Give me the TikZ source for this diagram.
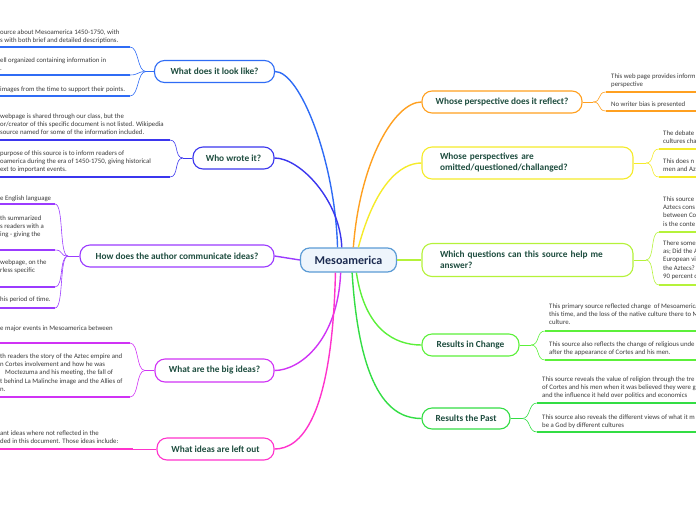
\documentclass[tikz,border=0pt]{standalone}
\usepackage{fontspec}
\setmainfont{Carlito}
\definecolor{cblue}{HTML}{2F6CF5}
\definecolor{cindigo}{HTML}{3B36EE}
\definecolor{cpurple}{HTML}{9B3BFF}
\definecolor{cmag}{HTML}{D033F5}
\definecolor{cpink}{HTML}{FF33CC}
\definecolor{corange}{HTML}{FFA020}
\definecolor{cyellow}{HTML}{F5EB2A}
\definecolor{clime}{HTML}{B5F23A}
\definecolor{cgreenA}{HTML}{5CF03A}
\definecolor{cgreenB}{HTML}{33DD44}
\definecolor{ctext}{HTML}{1E4D3F}
\definecolor{cnavy}{HTML}{1C2B50}
\definecolor{cfill}{HTML}{EEF5FC}
\definecolor{cedge}{HTML}{5B9BD5}
\definecolor{cgray}{HTML}{3A3A3A}
\newcommand{\leafrows}[1]{\begin{tabular}[t]{@{}l@{}}#1\end{tabular}}
\tikzset{
  mainbox/.style={draw=cedge, fill=cfill, line width=1.2pt, rounded corners=9pt,
    minimum width=96pt, minimum height=24pt, inner sep=0pt,
    font=\fontsize{12}{14}\selectfont\bfseries, text=cnavy},
  branch/.style={draw=#1, fill=white, line width=1.1pt, rounded corners=10pt,
    inner sep=0pt, font=\fontsize{9.3}{11}\selectfont\bfseries, text=ctext},
  conn/.style={draw=#1, line width=1.4pt},
  twig/.style={draw=#1, line width=0.6pt},
  uline/.style={draw=#1, line width=1.8pt},
  leaf/.style={anchor=base west, inner sep=0pt, font=\fontsize{6.8}{8.4}\selectfont, text=cgray}
}
\begin{document}
\begin{tikzpicture}[x=1pt,y=-1pt]
\useasboundingbox (0,0) rectangle (696,520);
\clip (0,0) rectangle (696,520);

% centre
\node[mainbox] (c) at (348.5,260) {Mesoamerica};

% branches left
\node[branch=cblue, minimum width=120pt, minimum height=22pt] (look) at (214.5,71.5) {What does it look like?};
\node[branch=cindigo, minimum width=81pt, minimum height=22pt] (who) at (233.5,158) {Who wrote it?};
\node[branch=cpurple, minimum width=194pt, minimum height=22pt] (how) at (177,256) {How does the author communicate ideas?};
\node[branch=cmag, minimum width=119pt, minimum height=23pt] (big) at (214.5,370.5) {What are the big ideas?};
\node[branch=cpink, minimum width=117pt, minimum height=22pt] (out) at (215.5,449) {What ideas are left out};

% branches right
\node[branch=corange, minimum width=160pt, minimum height=22pt] (persp) at (502,102) {Whose perspective does it reflect?};
\node[branch=cyellow, minimum width=211pt, minimum height=32pt, text width=175pt, align=left] (omit) at (527.5,163) {Whose perspectives are\\omitted/questioned/challanged?};
\node[branch=clime, minimum width=211pt, minimum height=33pt, text width=175pt, align=left] (quest) at (527.5,260) {Which questions can this source help me\\answer?};
\node[branch=cgreenA, minimum width=97pt, minimum height=22pt] (change) at (470.5,345) {Results in Change};
\node[branch=cgreenB, minimum width=88pt, minimum height=21pt] (past) at (466,418.5) {Results the Past};

% main connectors
\draw[conn=cblue] (c.131) .. controls (335,160) and (300,71.5) .. (look.east);
\draw[conn=cindigo] (c.118) .. controls (340,200) and (300,158) .. (who.east);
\draw[conn=cpurple] (c.west) -- (how.east);
\draw[conn=cmag] (c.238) .. controls (338,340) and (300,370.5) .. (big.east);
\draw[conn=cpink] (c.224) .. controls (332,420) and (300,449) .. (out.east);
\draw[conn=corange] (c.69) .. controls (360,160) and (395,102) .. (persp.west);
\draw[conn=cyellow] (c.52) .. controls (375,185) and (400,163) .. (omit.west);
\draw[conn=clime] (c.east) -- (quest.west);
\draw[conn=cgreenA] (c.302) .. controls (365,330) and (395,345) .. (change.west);
\draw[conn=cgreenB] (c.286) .. controls (360,400) and (395,418.5) .. (past.west);

% ---------- What does it look like? leaves
\coordinate (lkh) at (146,71.5);
\coordinate (lk1) at (130,47);
\coordinate (lk2) at (130,75);
\coordinate (lk3) at (130,96);
\draw[uline=cblue] (-2,47) -- (lk1);
\draw[uline=cblue] (-2,75) -- (lk2);
\draw[uline=cblue] (-2,96) -- (lk3);
\draw[twig=cblue] (look.west) -- (lkh);
\foreach \e in {lk1,lk2,lk3} \draw[twig=cblue] (lkh) .. controls +(-9,0) and +(9,0) .. (\e);
\node[leaf] (lkt1) at (0,34.5) {\leafrows{ource about Mesoamerica 1450-1750, with\\s with both brief and detailed descriptions.}};
\node[leaf] (lkt2) at (0,62) {\leafrows{ell organized containing information in\\.}};
\node[leaf] (lkt3) at (0,91) {\leafrows{images from the time to support their points.}};

% ---------- Who wrote it? leaves
\coordinate (wh) at (183,158);
\coordinate (w1) at (170,140);
\coordinate (w2) at (170,177);
\draw[uline=cindigo] (-2,140) -- (w1);
\draw[uline=cindigo] (-2,177) -- (w2);
\draw[twig=cindigo] (who.west) -- (wh);
\foreach \e in {w1,w2} \draw[twig=cindigo] (wh) .. controls +(-9,0) and +(9,0) .. (\e);
\node[leaf] (wt1) at (0,118) {\leafrows{webpage is shared through our class, but the\\or/creator of this specific document is not listed. Wikipedia\\source named for some of the information included.}};
\node[leaf] (wt2) at (0,155) {\leafrows{purpose of this source is to inform readers of\\oamerica during the era of 1450-1750, giving historical\\ext to important events.}};

% ---------- How does the author communicate ideas? leaves
\coordinate (hh) at (68,256);
\coordinate (h1) at (55,204);
\coordinate (h2) at (55,250);
\coordinate (h3) at (55,287);
\coordinate (h4) at (55,308);
\draw[uline=cpurple] (-2,204) -- (h1);
\draw[uline=cpurple] (-2,250) -- (h2);
\draw[uline=cpurple] (-2,287) -- (h3);
\draw[uline=cpurple] (-2,308) -- (h4);
\draw[twig=cpurple] (how.west) -- (hh);
\foreach \e in {h1,h2,h3,h4} \draw[twig=cpurple] (hh) .. controls +(-9,0) and +(9,0) .. (\e);
\node[leaf] (ht1) at (0,200) {\leafrows{e English language}};
\node[leaf] (ht2) at (0,220) {\leafrows{th summarized\\s readers with a\\ing - giving the}};
\node[leaf] (ht3) at (0,264.5) {\leafrows{webpage, on the\\rless specific}};
\node[leaf] (ht4) at (0,301) {\leafrows{his period of time.}};

% ---------- What are the big ideas? leaves
\coordinate (bh) at (145,370.5);
\coordinate (b1) at (130,343);
\coordinate (b2) at (130,397);
\draw[uline=cmag] (-2,343) -- (b1);
\draw[uline=cmag] (-2,397) -- (b2);
\draw[twig=cmag] (big.west) -- (bh);
\foreach \e in {b1,b2} \draw[twig=cmag] (bh) .. controls +(-9,0) and +(9,0) .. (\e);
\node[leaf] (bt1) at (0,330) {\leafrows{e major events in Mesoamerica between}};
\node[leaf] (bt2) at (0,358) {\leafrows{th readers the story of the Aztec empire and\\n Cortes involvement and how he was\\\hspace{5pt}Moctezuma and his meeting, the fall of\\t behind La Malinche image and the Allies of\\n.}};

% ---------- What ideas are left out leaf
\coordinate (o1) at (133,449);
\draw[uline=cpink] (-2,449) -- (o1);
\draw[twig=cpink] (out.west) -- (o1);
\node[leaf] (ot1) at (0,435) {\leafrows{ant ideas where not reflected in the\\ded in this document. Those ideas include:}};

% ---------- Whose perspective does it reflect? leaves
\coordinate (ph) at (593,102);
\coordinate (p1) at (606,92);
\coordinate (p2) at (606,111);
\draw[uline=corange] (p1) -- (700,92);
\draw[uline=corange] (p2) -- (700,111);
\draw[twig=corange] (persp.east) -- (ph);
\foreach \e in {p1,p2} \draw[twig=corange] (ph) .. controls +(9,0) and +(-9,0) .. (\e);
\node[leaf] (pt1) at (611,78) {\leafrows{This web page provides inform\\perspective}};
\node[leaf] (pt2) at (611,106) {\leafrows{No writer bias is presented}};

% ---------- Whose perspectives are omitted? leaves
\coordinate (mh) at (646,163);
\coordinate (m1) at (659,149);
\coordinate (m2) at (659,177);
\draw[uline=cyellow] (m1) -- (700,149);
\draw[uline=cyellow] (m2) -- (700,177);
\draw[twig=cyellow] (omit.east) -- (mh);
\foreach \e in {m1,m2} \draw[twig=cyellow] (mh) .. controls +(9,0) and +(-9,0) .. (\e);
\node[leaf] (mt1) at (663,135) {\leafrows{The debate\\cultures cha}};
\node[leaf] (mt2) at (663,163) {\leafrows{This does n\\men and Az}};

% ---------- Which questions leaves
\coordinate (qh) at (646,260);
\coordinate (q1) at (659,232);
\coordinate (q2) at (659,285);
\draw[uline=clime] (q1) -- (700,232);
\draw[uline=clime] (q2) -- (700,285);
\draw[twig=clime] (quest.east) -- (qh);
\foreach \e in {q1,q2} \draw[twig=clime] (qh) .. controls +(9,0) and +(-9,0) .. (\e);
\node[leaf] (qt1) at (663,201) {\leafrows{This source\\Aztecs cons\\between Co\\is the conte}};
\node[leaf] (qt2) at (663,245) {\leafrows{There some\\as; Did the A\\European vi\\the Aztecs?\\90 percent o}};

% ---------- Results in Change leaves
\coordinate (chh) at (531,345);
\coordinate (ch1) at (545,331);
\coordinate (ch2) at (545,360);
\draw[uline=cgreenA] (ch1) -- (700,331);
\draw[uline=cgreenA] (ch2) -- (700,360);
\draw[twig=cgreenA] (change.east) -- (chh);
\foreach \e in {ch1,ch2} \draw[twig=cgreenA] (chh) .. controls +(9,0) and +(-9,0) .. (\e);
\node[leaf] (cht1) at (549,308) {\leafrows{This primary source reflected change\ \ of Mesoamerica\\this time, and the loss of the native culture there to M\\culture.}};
\node[leaf] (cht2) at (549,346) {\leafrows{This source also reflects the change of religious unde\\after the appearance of Cortes and his men.}};

% ---------- Results the Past leaves
\coordinate (pah) at (522,418.5);
\coordinate (pa1) at (537,403);
\coordinate (pa2) at (537,432);
\draw[uline=cgreenB] (pa1) -- (700,403);
\draw[uline=cgreenB] (pa2) -- (700,432);
\draw[twig=cgreenB] (past.east) -- (pah);
\foreach \e in {pa1,pa2} \draw[twig=cgreenB] (pah) .. controls +(9,0) and +(-9,0) .. (\e);
\node[leaf] (pat1) at (542,381) {\leafrows{This source reveals the value of religion through the tre\\of Cortes and his men when it was believed they were g\\and the influence it held over politics and economics}};
\node[leaf] (pat2) at (542,419) {\leafrows{This source also reveals the different views of what it m\\be a God by different cultures}};
\end{tikzpicture}
\end{document}
